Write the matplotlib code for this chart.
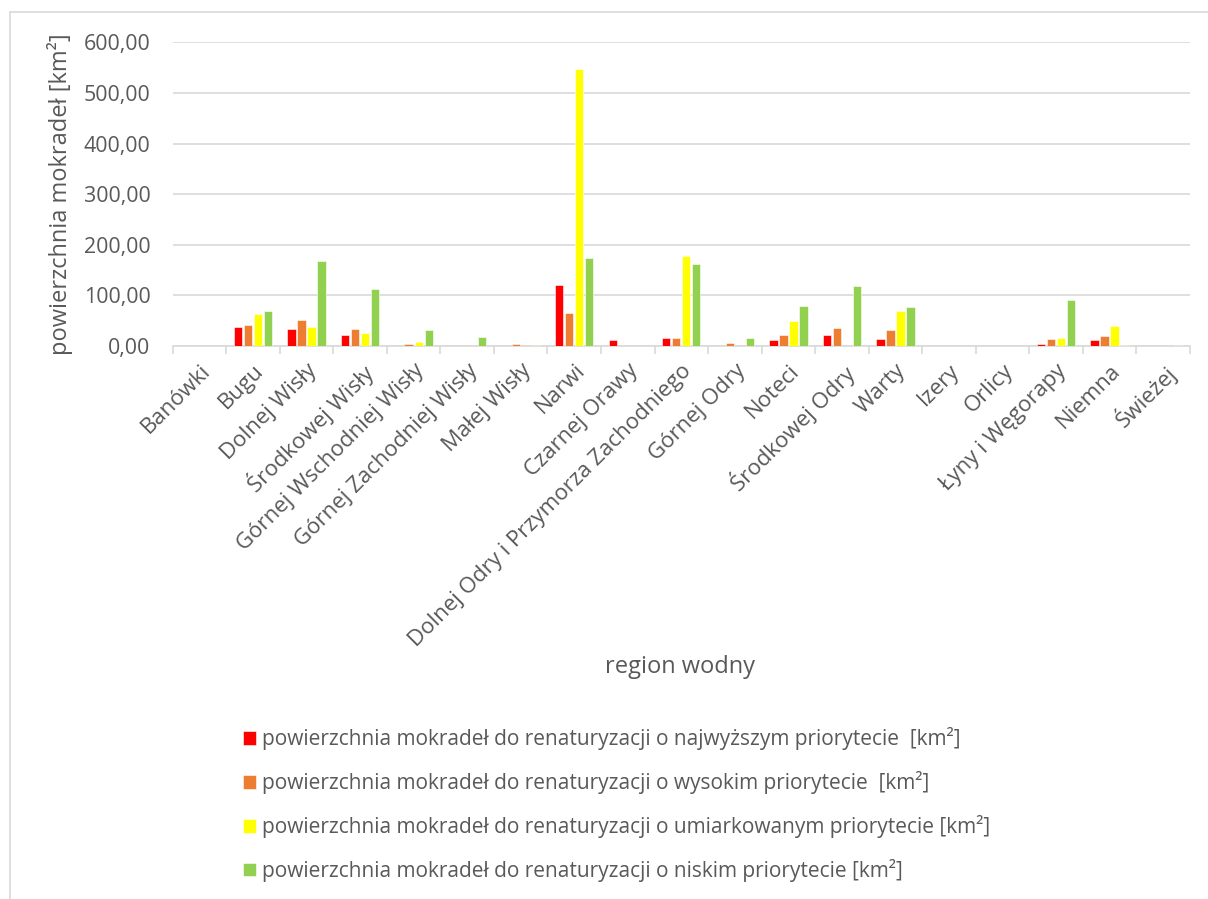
import numpy as np
import matplotlib.pyplot as plt
from matplotlib.patches import Rectangle

regions = ['Banówki', 'Bugu', 'Dolnej Wisły', 'Środkowej Wisły', 'Górnej Wschodniej Wisły',
           'Górnej Zachodniej Wisły', 'Małej Wisły', 'Narwi', 'Czarnej Orawy',
           'Dolnej Odry i Przymorza Zachodniego', 'Górnej Odry', 'Noteci', 'Środkowej Odry',
           'Warty', 'Izery', 'Orlicy', 'Łyny i Węgorapy', 'Niemna', 'Świeżej']

najwyzszy = [0.0, 36.8, 33.0, 21.7, 0.0, 1.0, 0.0, 121.0, 12.5, 16.4, 0.0, 11.2, 21.0, 14.5, 0.0, 0.0, 4.6, 13.0, 0.3]
wysoki = [0.0, 41.4, 50.7, 34.2, 3.3, 1.0, 4.0, 64.5, 0.0, 16.4, 5.3, 21.0, 36.0, 32.2, 0.0, 0.0, 14.5, 19.7, 0.3]
umiarkowany = [0.0, 63.0, 36.8, 26.3, 7.2, 0.5, 0.5, 547.0, 0.0, 177.0, 0.5, 48.7, 0.0, 69.7, 0.0, 0.0, 17.0, 39.5, 0.5]
niski = [0.5, 68.4, 168.0, 112.5, 31.0, 18.4, 3.0, 174.0, 0.0, 162.5, 17.0, 80.0, 119.0, 77.6, 0.0, 0.0, 91.4, 3.0, 3.0]

series_labels = [
    'powierzchnia mokradeł do renaturyzacji o najwyższym priorytecie  [km²]',
    'powierzchnia mokradeł do renaturyzacji o wysokim priorytecie  [km²]',
    'powierzchnia mokradeł do renaturyzacji o umiarkowanym priorytecie [km²]',
    'powierzchnia mokradeł do renaturyzacji o niskim priorytecie [km²]',
]
colors = ['#FF0000', '#ED7D31', '#FFFF00', '#92D050']
grey = '#595959'

plt.rcParams['font.family'] = ['Open Sans', 'DejaVu Sans']

fig = plt.figure(figsize=(12.08, 8.99), dpi=100)
ax = fig.add_axes([0.143, 0.615, 0.842, 0.338])

x = np.arange(len(regions))
w = 0.155
step = 0.187
for i, vals in enumerate([najwyzszy, wysoki, umiarkowany, niski]):
    ax.bar(x + (i - 1.5) * step, vals, width=w, color=colors[i],
           edgecolor='white', linewidth=0.4, label=series_labels[i], zorder=3)

ax.set_xlim(-0.5, len(regions) - 0.5)
ax.set_ylim(0, 600)
ax.set_yticks(np.arange(0, 601, 100))
ax.set_yticklabels([f'{v},00' for v in range(0, 601, 100)], fontsize=15.4, color=grey)
ax.yaxis.grid(True, color='#D9D9D9', linewidth=1.2, zorder=0)
ax.tick_params(axis='y', length=0, pad=16)

ax.set_xticks(x)
ax.set_xticklabels(regions, rotation=45, ha='right', rotation_mode='anchor',
                   fontsize=16, color=grey)
ax.set_xticks(np.arange(-0.5, len(regions), 1), minor=True)
ax.tick_params(axis='x', which='major', length=0, pad=10)
ax.tick_params(axis='x', which='minor', length=5.8, color='#D9D9D9', width=1.2)

for s in ['top', 'right', 'left']:
    ax.spines[s].set_visible(False)
ax.spines['bottom'].set_color('#D9D9D9')
ax.spines['bottom'].set_linewidth(1.2)

ax.set_ylabel('powierzchnia mokradeł [km²]', fontsize=17, color=grey, labelpad=8)
fig.text(0.563, 0.258, 'region wodny', fontsize=17, color=grey, ha='center', va='center')

fig.legend(loc='upper left', bbox_to_anchor=(0.201, 0.191), frameon=False,
           fontsize=15, labelcolor=grey, handlelength=0.65, handleheight=0.65,
           handletextpad=0.25, labelspacing=1.0, borderpad=0, borderaxespad=0)

fig.patches.append(Rectangle((10 / 1208, -0.1), 1.2, 1 - 12 / 899 + 0.1,
                             transform=fig.transFigure, fill=False,
                             edgecolor='#D9D9D9', linewidth=1.2))

fig.savefig('out.png', dpi=100)
